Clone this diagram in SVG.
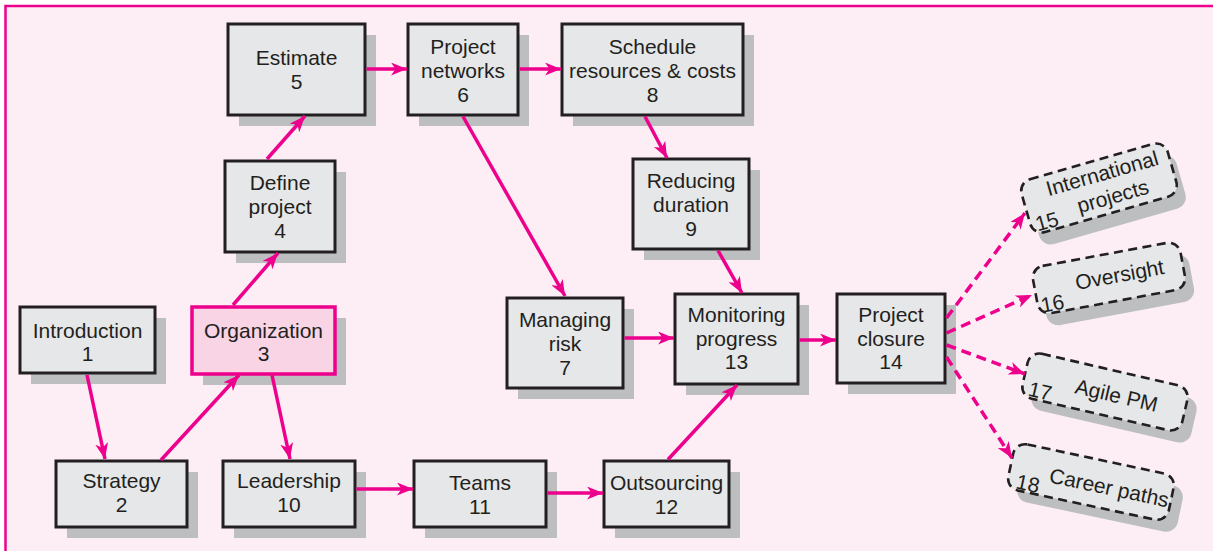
<svg xmlns="http://www.w3.org/2000/svg" width="1213" height="551" viewBox="0 0 1213 551">
<style>
text{font-family:"Liberation Sans",Arial,Helvetica,sans-serif;font-size:21px;fill:#231F20;text-anchor:middle}
.sh{fill:#BCBEC0}
.bx{fill:#E6E7E8;stroke:#231F20;stroke-width:3}
.org{fill:#F9D4E5;stroke:#EC008C;stroke-width:3.5}
.dbx{fill:#E6E7E8;stroke:#231F20;stroke-width:2.6;stroke-dasharray:9 5.5}
.ln{stroke:#EC008C;stroke-width:3.5;fill:none;marker-end:url(#ah)}
.dl{stroke:#EC008C;stroke-width:3.5;fill:none;stroke-dasharray:10 6;marker-end:url(#ah)}
.st{text-anchor:start}
</style>
<defs>
<marker id="ah" markerUnits="userSpaceOnUse" markerWidth="17" markerHeight="13" refX="16" refY="6.5" orient="auto">
<path d="M0,0 L16,6.5 L0,13 L4.5,6.5 Z" fill="#EC008C"/>
</marker>
</defs>
<rect x="5.5" y="6" width="1220" height="560" fill="#FDEEF5" stroke="#EC008C" stroke-width="2.5"/>

<g id="n1"><rect class="sh" x="31" y="318" width="135" height="66"/><rect class="bx" x="20" y="307" width="135" height="66"/><text x="87.5" y="338">Introduction</text><text x="87.5" y="361">1</text></g>
<g id="n2"><rect class="sh" x="67" y="472" width="131" height="66"/><rect class="bx" x="56" y="461" width="131" height="66"/><text x="121.5" y="488">Strategy</text><text x="121.5" y="512">2</text></g>
<g id="n3"><rect class="sh" x="203" y="318" width="143" height="67"/><rect class="org" x="192" y="307" width="143" height="67"/><text x="263.5" y="338">Organization</text><text x="263.5" y="361">3</text></g>
<g id="n4"><rect class="sh" x="236" y="172" width="110" height="91"/><rect class="bx" x="225" y="161" width="110" height="91"/><text x="280" y="190">Define</text><text x="280" y="214">project</text><text x="280" y="238">4</text></g>
<g id="n5"><rect class="sh" x="239" y="35" width="137" height="91"/><rect class="bx" x="228" y="24" width="137" height="91"/><text x="296.5" y="65">Estimate</text><text x="296.5" y="89">5</text></g>
<g id="n6"><rect class="sh" x="419" y="35" width="110" height="91"/><rect class="bx" x="408" y="24" width="110" height="91"/><text x="463" y="54">Project</text><text x="463" y="78">networks</text><text x="463" y="102">6</text></g>
<g id="n7"><rect class="sh" x="518" y="309" width="116" height="90"/><rect class="bx" x="507" y="298" width="116" height="90"/><text x="565" y="327">Managing</text><text x="565" y="351">risk</text><text x="565" y="375">7</text></g>
<g id="n8"><rect class="sh" x="573" y="35" width="181" height="91"/><rect class="bx" x="562" y="24" width="181" height="91"/><text x="652.5" y="54">Schedule</text><text x="652.5" y="78">resources &amp; costs</text><text x="652.5" y="102">8</text></g>
<g id="n9"><rect class="sh" x="644" y="170" width="116" height="90"/><rect class="bx" x="633" y="159" width="116" height="90"/><text x="691" y="188">Reducing</text><text x="691" y="212">duration</text><text x="691" y="236">9</text></g>
<g id="n10"><rect class="sh" x="234" y="472" width="132" height="66"/><rect class="bx" x="223" y="461" width="132" height="66"/><text x="289" y="488">Leadership</text><text x="289" y="512">10</text></g>
<g id="n11"><rect class="sh" x="425" y="472" width="132" height="66"/><rect class="bx" x="414" y="461" width="132" height="66"/><text x="480" y="490">Teams</text><text x="480" y="514">11</text></g>
<g id="n12"><rect class="sh" x="615" y="472" width="125" height="66"/><rect class="bx" x="604" y="461" width="125" height="66"/><text x="666.5" y="490">Outsourcing</text><text x="666.5" y="514">12</text></g>
<g id="n13"><rect class="sh" x="686" y="305" width="123" height="90"/><rect class="bx" x="675" y="294" width="123" height="90"/><text x="736.5" y="322">Monitoring</text><text x="736.5" y="346">progress</text><text x="736.5" y="369">13</text></g>
<g id="n14"><rect class="sh" x="848" y="305" width="108" height="89"/><rect class="bx" x="837" y="294" width="108" height="89"/><text x="891" y="322">Project</text><text x="891" y="346">closure</text><text x="891" y="369">14</text></g>

<g id="n15">
<rect class="sh" transform="translate(1108,200) rotate(-16)" x="-76" y="-27.5" width="152" height="55" rx="12"/>
<g transform="translate(1099,188) rotate(-16)"><rect class="dbx" x="-76" y="-27.5" width="152" height="55" rx="12"/><text x="7" y="-6">International</text><text x="11" y="19">projects</text><text class="st" x="-71" y="25">15</text></g>
</g>
<g id="n16">
<rect class="sh" transform="translate(1118,290) rotate(-10.5)" x="-75" y="-24" width="150" height="48" rx="12"/>
<g transform="translate(1109,278) rotate(-10.5)"><rect class="dbx" x="-75" y="-24" width="150" height="48" rx="12"/><text x="11" y="6">Oversight</text><text class="st" x="-72" y="22">16</text></g>
</g>
<g id="n17">
<rect class="sh" transform="translate(1114,404) rotate(13)" x="-82" y="-23" width="164" height="46" rx="12"/>
<g transform="translate(1105,392) rotate(13)"><rect class="dbx" x="-82" y="-23" width="164" height="46" rx="12"/><text x="12" y="8">Agile PM</text><text class="st" x="-75" y="21">17</text></g>
</g>
<g id="n18">
<rect class="sh" transform="translate(1100,494) rotate(12)" x="-82" y="-23.5" width="164" height="47" rx="12"/>
<g transform="translate(1091,482) rotate(12)"><rect class="dbx" x="-82" y="-23.5" width="164" height="47" rx="12"/><text x="19" y="9">Career paths</text><text class="st" x="-73" y="22">18</text></g>
</g>

<g id="connectors">
<path class="ln" d="M87,375 L105,459"/>
<path class="ln" d="M161,460 L239,375"/>
<path class="ln" d="M272,375 L290,459"/>
<path class="ln" d="M233,305 L278,253"/>
<path class="ln" d="M267,159 L305,116"/>
<path class="ln" d="M366.5,69 L407,69"/>
<path class="ln" d="M519.5,69 L561,69"/>
<path class="ln" d="M645,116.5 L667,158"/>
<path class="ln" d="M463,116.5 L565,296"/>
<path class="ln" d="M718,250.5 L742,293"/>
<path class="ln" d="M624.5,338 L674,338"/>
<path class="ln" d="M799.5,340 L836,340"/>
<path class="ln" d="M356.5,489 L413,489"/>
<path class="ln" d="M547.5,493 L603,493"/>
<path class="ln" d="M668,459.5 L737,385"/>
<path class="dl" d="M946.5,318 L1025,213"/>
<path class="dl" d="M946.5,333 L1032,295"/>
<path class="dl" d="M946.5,345 L1025,374"/>
<path class="dl" d="M946.5,357 L1012,458"/>
</g>
</svg>
